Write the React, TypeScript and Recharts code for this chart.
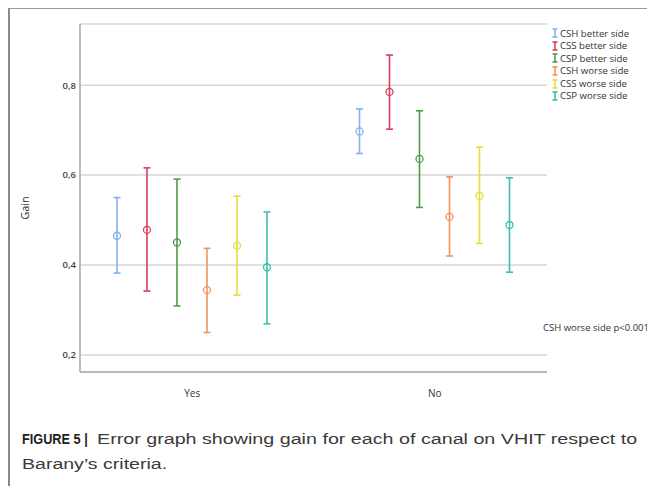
import { Bar, CartesianGrid, ComposedChart, ErrorBar, XAxis, YAxis } from "recharts";

const categories = ["Yes", "No"];

const seriesNames = [
  "CSH better side",
  "CSS better side",
  "CSP better side",
  "CSH worse side",
  "CSS worse side",
  "CSP worse side",
];

const seriesColors = ["#82b1ee", "#da3d5d", "#4f9b4c", "#f4915e", "#e6dc3c", "#3cbfae"];

// mean gain per series, [Yes, No]
const meanValues = [
  [0.465, 0.697],
  [0.478, 0.785],
  [0.45, 0.636],
  [0.344, 0.507],
  [0.443, 0.554],
  [0.395, 0.489],
];

// lower end of the error bar
const lowerValues = [
  [0.382, 0.648],
  [0.342, 0.702],
  [0.309, 0.528],
  [0.25, 0.42],
  [0.333, 0.448],
  [0.269, 0.384],
];

// upper end of the error bar
const upperValues = [
  [0.55, 0.747],
  [0.616, 0.867],
  [0.591, 0.743],
  [0.437, 0.596],
  [0.553, 0.662],
  [0.518, 0.594],
];

const yTicks = [0.2, 0.4, 0.6, 0.8];
const yTickLabels = ["0,2", "0,4", "0,6", "0,8"];

const tableData = categories.map((cat, ci) => {
  const row: Record<string, unknown> = { cat };
  seriesNames.forEach((_, si) => {
    const m = meanValues[si][ci];
    row[`m${si}`] = m;
    row[`e${si}`] = [m - lowerValues[si][ci], upperValues[si][ci] - m];
  });
  return row;
});

const tickFont = "'Open Sans', sans-serif";
const captionFont = "'Liberation Sans', Arial, sans-serif";

function meanDot(color: string) {
  return (props: any) => {
    const { x, y, width } = props;
    return (
      <circle
        cx={x + width / 2}
        cy={y}
        r={3.5}
        fill="#ffffff"
        fillOpacity={0.5}
        stroke={color}
        strokeWidth={1.3}
      />
    );
  };
}

function LegendIcon({ color }: { color: string }) {
  return (
    <svg width={6} height={10} style={{ display: "block" }}>
      <line x1={3} y1={1} x2={3} y2={9} stroke={color} strokeWidth={1.6} />
      <line x1={0.5} y1={1} x2={5.5} y2={1} stroke={color} strokeWidth={1.6} />
      <line x1={0.5} y1={9} x2={5.5} y2={9} stroke={color} strokeWidth={1.6} />
    </svg>
  );
}

const stretch = (sx: number): React.CSSProperties => ({
  display: "inline-block",
  transform: `scaleX(${sx})`,
  transformOrigin: "left center",
  whiteSpace: "nowrap",
});

export default function App() {
  return (
    <div
      style={{
        position: "relative",
        width: 647,
        height: 478,
        borderTop: "1px solid #9a9a9a",
        borderLeft: "2px solid #8a8a8a",
        boxSizing: "border-box",
        background: "#fff",
      }}
    >
      <style>{"html,body{overflow:hidden}"}</style>
      <ComposedChart
        width={645}
        height={400}
        data={tableData}
        margin={{ top: 15, right: 108, bottom: 7, left: 10 }}
        barSize={26}
        barGap={4}
        style={{ position: "absolute", left: 0, top: 0 }}
      >
        <CartesianGrid vertical={false} stroke="#d6d6d6" strokeWidth={1.5} />
        <XAxis
          dataKey="cat"
          padding={{ left: -9, right: -9 }}
          height={30}
          tickLine={false}
          tickSize={6}
          tickMargin={12}
          axisLine={{ stroke: "#ababab", strokeWidth: 1.6 }}
          tick={{ fontSize: 10, fill: "#333", fontFamily: tickFont }}
        />
        <YAxis
          type="number"
          width={60}
          domain={[0.162, 0.936]}
          allowDataOverflow
          ticks={yTicks}
          tickFormatter={(v: number) => yTickLabels[yTicks.indexOf(v)] ?? String(v)}
          tickLine={false}
          tickSize={2}
          tickMargin={2}
          axisLine={{ stroke: "#ababab", strokeWidth: 1.6 }}
          tick={{ fontSize: 9.5, fill: "#444", fontFamily: tickFont, fontWeight: 600 }}
          label={{
            content: () => (
              <text
                x={14}
                y={199}
                transform="rotate(-90 14 199)"
                textAnchor="middle"
                dominantBaseline="central"
                fontSize={11}
                fill="#333"
                fontFamily={tickFont}
              >
                Gain
              </text>
            ),
          }}
        />
        {seriesNames.map((name, si) => (
          <Bar
            key={name}
            name={name}
            dataKey={`m${si}`}
            fill="transparent"
            shape={meanDot(seriesColors[si])}
            isAnimationActive={false}
          >
            <ErrorBar
              dataKey={`e${si}`}
              width={3.5}
              stroke={seriesColors[si]}
              strokeWidth={1.6}
              isAnimationActive={false}
            />
          </Bar>
        ))}
      </ComposedChart>

      <div style={{ position: "absolute", left: 542, top: 18, fontFamily: tickFont }}>
        {seriesNames.map((name, si) => (
          <div
            key={name}
            style={{ display: "flex", alignItems: "center", height: 12.6, gap: 2 }}
          >
            <LegendIcon color={seriesColors[si]} />
            <span style={{ fontSize: 9.6, color: "#333", whiteSpace: "nowrap", lineHeight: 1 }}>
              {name}
            </span>
          </div>
        ))}
      </div>

      <div
        style={{
          position: "absolute",
          left: 533,
          top: 314,
          fontSize: 9.5,
          lineHeight: 1,
          color: "#333",
          fontFamily: tickFont,
          whiteSpace: "nowrap",
        }}
      >
        CSH worse side p&lt;0.001
      </div>

      <div
        style={{
          position: "absolute",
          left: 12,
          top: 417,
          fontSize: 15.5,
          lineHeight: "25px",
          color: "#3a3a3a",
          fontFamily: captionFont,
          width: 640,
        }}
      >
        <div style={{ position: "relative", height: 25 }}>
          <span style={{ ...stretch(0.82), fontWeight: 700, color: "#222" }}>FIGURE 5 |</span>
          <span style={{ ...stretch(1.27), position: "absolute", left: 75, top: 0 }}>
            Error graph showing gain for each of canal on VHIT respect to
          </span>
        </div>
        <div style={{ height: 25 }}>
          <span style={stretch(1.26)}>Barany’s criteria.</span>
        </div>
      </div>
    </div>
  );
}
